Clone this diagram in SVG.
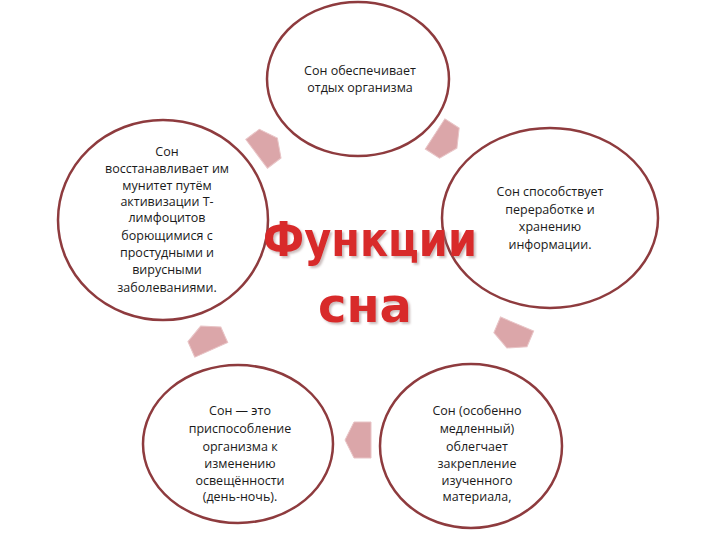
<svg xmlns="http://www.w3.org/2000/svg" width="720" height="540" viewBox="0 0 720 540">
<defs>
<style>
.node ellipse{fill:#ffffff;stroke:#8e3b3e;stroke-width:2.5}
.t{font-family:"Open Sans","Noto Sans","Liberation Sans",sans-serif;font-size:12.5px;fill:#1a1a1a;text-anchor:middle}
.big{font-family:"DejaVu Sans","Liberation Sans",sans-serif;font-weight:bold;font-size:48px;fill:#d8292b;text-anchor:middle;filter:url(#sh)}
.arr{fill:#dba6a9;stroke:#e8c4c6;stroke-width:1}
</style>
<filter id="sh" x="-10%" y="-20%" width="120%" height="140%">
<feDropShadow dx="2" dy="2" stdDeviation="1.2" flood-color="#8a6a6a" flood-opacity="0.45"/>
</filter>
<polygon id="ar" points="-13,-18 4,-18 13,0 4,18 -13,18"/>
</defs>
<rect width="720" height="540" fill="#ffffff"/>
<g id="connectors">
<use href="#ar" class="arr" transform="translate(267,146) rotate(-37)"/>
<use href="#ar" class="arr" transform="translate(446,141) rotate(33)"/>
<use href="#ar" class="arr" transform="translate(512,336) rotate(113)"/>
<use href="#ar" class="arr" transform="translate(358,440) rotate(180)"/>
<use href="#ar" class="arr" transform="translate(206,338) rotate(246)"/>
</g>
<g id="node-top" class="node">
<ellipse cx="358" cy="79" rx="91" ry="77"/>
<text class="t" x="360" y="75">Сон обеспечивает</text>
<text class="t" x="360" y="92">отдых организма</text>
</g>
<g id="node-left" class="node">
<ellipse cx="163" cy="220" rx="105" ry="100"/>
<text class="t" x="167" y="156">Сон</text>
<text class="t" x="167" y="173">восстанавливает им</text>
<text class="t" x="167" y="190">мунитет путём</text>
<text class="t" x="167" y="206">активизации Т-</text>
<text class="t" x="167" y="222">лимфоцитов</text>
<text class="t" x="167" y="240">борющимися с</text>
<text class="t" x="167" y="257">простудными и</text>
<text class="t" x="167" y="274">вирусными</text>
<text class="t" x="167" y="292">заболеваниями.</text>
</g>
<g id="node-right" class="node">
<ellipse cx="550" cy="218" rx="108" ry="90"/>
<text class="t" x="550" y="196">Сон способствует</text>
<text class="t" x="550" y="214">переработке и</text>
<text class="t" x="550" y="231">хранению</text>
<text class="t" x="550" y="249">информации.</text>
</g>
<g id="node-bottom-right" class="node">
<ellipse cx="471" cy="446" rx="91" ry="82"/>
<text class="t" x="477" y="415">Сон (особенно</text>
<text class="t" x="477" y="433">медленный)</text>
<text class="t" x="477" y="451">облегчает</text>
<text class="t" x="477" y="468">закрепление</text>
<text class="t" x="477" y="485">изученного</text>
<text class="t" x="477" y="501">материала,</text>
</g>
<g id="node-bottom-left" class="node">
<ellipse cx="238" cy="444" rx="95" ry="79"/>
<text class="t" x="240" y="415">Сон — это</text>
<text class="t" x="240" y="433">приспособление</text>
<text class="t" x="240" y="451">организма к</text>
<text class="t" x="240" y="468">изменению</text>
<text class="t" x="240" y="485">освещённости</text>
<text class="t" x="240" y="501">(день-ночь).</text>
</g>
<g id="title">
<text class="big" x="370" y="256" textLength="214" lengthAdjust="spacingAndGlyphs">Функции</text>
<text class="big" x="365" y="322" textLength="94" lengthAdjust="spacingAndGlyphs">сна</text>
</g>
</svg>
